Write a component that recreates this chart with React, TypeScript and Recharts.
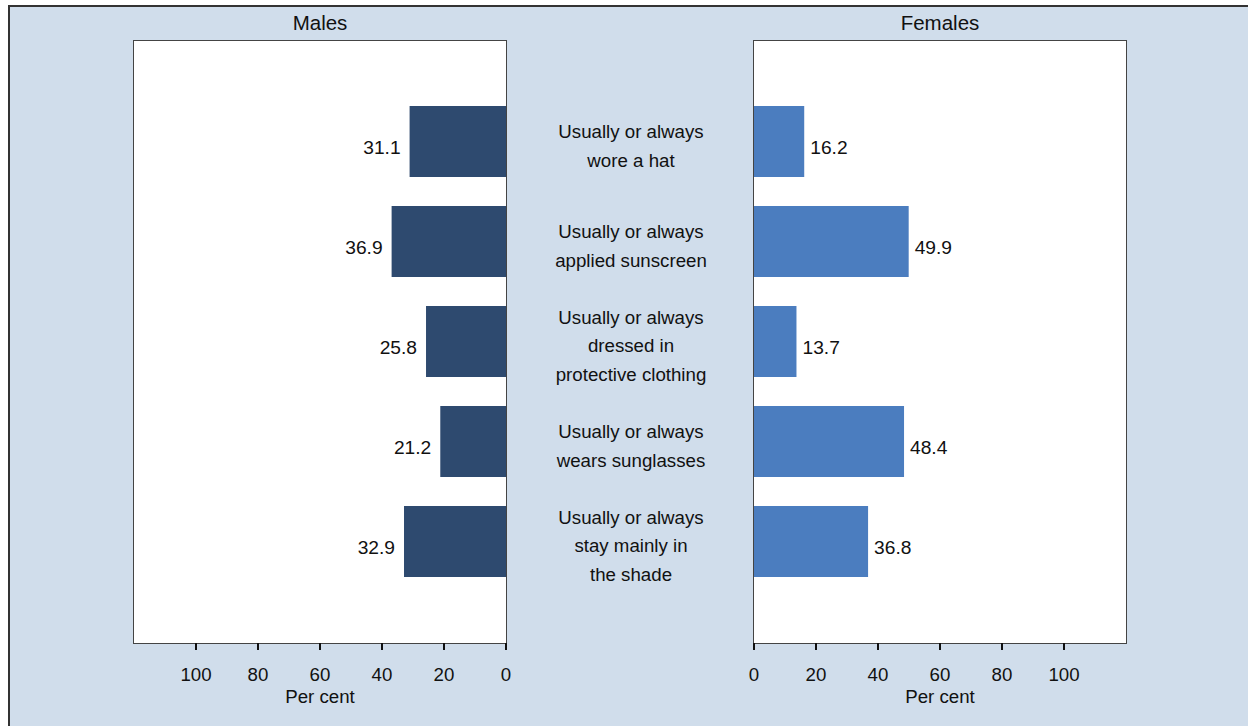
import React from 'react';
import { BarChart, Bar, XAxis, YAxis, LabelList } from 'recharts';

// ---- data ----
const categoryLines: string[][] = [
  ['Usually or always', 'wore a hat'],
  ['Usually or always', 'applied sunscreen'],
  ['Usually or always', 'dressed in', 'protective clothing'],
  ['Usually or always', 'wears sunglasses'],
  ['Usually or always', 'stay mainly in', 'the shade'],
];
const malesValues = [31.1, 36.9, 25.8, 21.2, 32.9];
const femalesValues = [16.2, 49.9, 13.7, 48.4, 36.8];
const xTicks = [0, 20, 40, 60, 80, 100];
const xDomain: [number, number] = [0, 120];
const panelTitles = ['Males', 'Females'];
const axisTitle = 'Per cent';

const data = categoryLines.map((lines, i) => ({
  name: lines.join(' '),
  males: malesValues[i],
  females: femalesValues[i],
}));

// ---- style ----
const FONT = '"Liberation Sans", Arial, Helvetica, sans-serif';
const FS = 18.7;
const FS_VAL = 19.2;
const FS_TITLE = 20.5;
const BG = '#D0DDEB';
const MALE = '#2E4A6F';
const FEMALE = '#4B7DBF';
const TXT = '#111';

const CHART_H = 725;
const MARGIN_TOP = 36;
const MARGIN_BOTTOM = 25;
const XAXIS_H = 62;
const Y_PAD = { top: 50, bottom: 52 };

const valueLabel = (side: 'left' | 'right') => (p: any) => {
  const vb = p.viewBox ?? p;
  const x = Number(vb.x ?? p.x);
  const w = Number(vb.width ?? p.width);
  const y = Number(vb.y ?? p.y);
  const h = Number(vb.height ?? p.height);
  const left = Math.min(x, x + w);
  const right = Math.max(x, x + w);
  const cy = y + h / 2;
  return (
    <text
      x={side === 'left' ? left - 9 : right + 6}
      y={cy + 12}
      textAnchor={side === 'left' ? 'end' : 'start'}
      fill={TXT}
      fontSize={FS_VAL}
      fontFamily={FONT}
    >
      {p.value}
    </text>
  );
};

const CategoryTick = (p: any) => {
  const idx = data.findIndex((d) => d.name === p.payload?.value);
  const lines = idx >= 0 ? categoryLines[idx] : [String(p.payload?.value)];
  const n = lines.length;
  const cx = Number(p.x) - 123;
  const base = Number(p.y) + 11.4 - ((n - 1) * 28.5) / 2;
  return (
    <text textAnchor="middle" fill={TXT} fontSize={FS} fontFamily={FONT}>
      {lines.map((l, i) => (
        <tspan key={i} x={cx} y={base + i * 28.5}>
          {l}
        </tspan>
      ))}
    </text>
  );
};

const frame = (left: number): React.CSSProperties => ({
  position: 'absolute',
  left,
  top: 40,
  width: 374,
  height: 604,
  boxSizing: 'border-box',
  border: '1px solid #444',
  background: '#fff',
});

const titleStyle = (left: number): React.CSSProperties => ({
  position: 'absolute',
  left,
  top: 12,
  width: 372,
  height: 21,
  lineHeight: '21px',
  fontSize: FS_TITLE,
  textAlign: 'center',
  color: TXT,
});

export default function App() {
  const tickStyle = { fill: TXT, fontSize: FS, fontFamily: FONT };
  const labelCfg = {
    value: axisTitle,
    position: 'insideBottom' as const,
    offset: 2,
    fill: TXT,
    fontSize: FS,
    fontFamily: FONT,
  };
  return (
    <div
      style={{
        position: 'absolute',
        left: 0,
        top: 0,
        width: 1248,
        height: 726,
        overflow: 'hidden',
        fontFamily: FONT,
      }}
    >
      <div
        style={{
          position: 'absolute',
          left: 8,
          top: 5,
          width: 1240,
          height: 721,
          background: BG,
          borderLeft: '2px solid #333',
          borderTop: '2px solid #333',
          boxSizing: 'border-box',
        }}
      />
      <div style={frame(133)} />
      <div style={frame(753)} />
      <div style={titleStyle(134)}>{panelTitles[0]}</div>
      <div style={titleStyle(754)}>{panelTitles[1]}</div>

      <div style={{ position: 'absolute', left: 8, top: 5 }}>
        <BarChart
          width={520}
          height={CHART_H}
          data={data}
          layout="vertical"
          margin={{ top: MARGIN_TOP, left: 126, right: 22, bottom: MARGIN_BOTTOM }}
        >
          <XAxis
            type="number"
            domain={xDomain}
            ticks={xTicks}
            reversed
            allowDataOverflow
            height={XAXIS_H}
            axisLine={false}
            tickLine={{ stroke: TXT, strokeWidth: 2 }}
            tickSize={7}
            tickMargin={18}
            tick={tickStyle}
            interval={0}
            label={labelCfg}
          />
          <YAxis type="category" dataKey="name" hide width={0} padding={Y_PAD} />
          <Bar dataKey="males" fill={MALE} barSize={71} isAnimationActive={false}>
            <LabelList dataKey="males" content={valueLabel('left')} />
          </Bar>
        </BarChart>
      </div>

      <div style={{ position: 'absolute', left: 508, top: 5 }}>
        <BarChart
          width={640}
          height={CHART_H}
          data={data}
          layout="vertical"
          margin={{ top: MARGIN_TOP, left: 0, right: 22, bottom: MARGIN_BOTTOM }}
        >
          <XAxis
            type="number"
            domain={xDomain}
            ticks={xTicks}
            allowDataOverflow
            height={XAXIS_H}
            axisLine={false}
            tickLine={{ stroke: TXT, strokeWidth: 2 }}
            tickSize={7}
            tickMargin={18}
            tick={tickStyle}
            interval={0}
            label={labelCfg}
          />
          <YAxis
            type="category"
            dataKey="name"
            width={246}
            padding={Y_PAD}
            axisLine={false}
            tickLine={false}
            tickSize={0}
            tickMargin={0}
            interval={0}
            tick={<CategoryTick />}
          />
          <Bar dataKey="females" fill={FEMALE} barSize={71} isAnimationActive={false}>
            <LabelList dataKey="females" content={valueLabel('right')} />
          </Bar>
        </BarChart>
      </div>
    </div>
  );
}
